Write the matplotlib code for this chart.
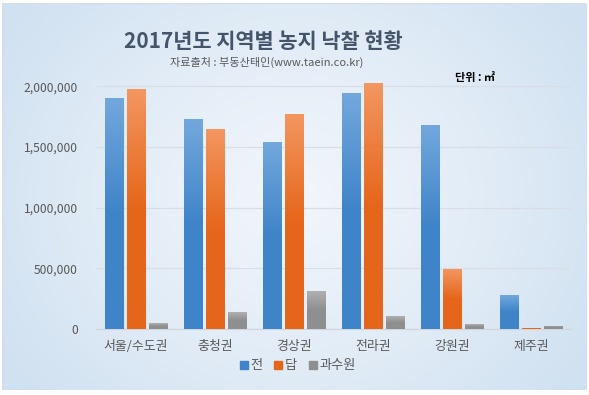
import numpy as np
import matplotlib
matplotlib.use("Agg")
import matplotlib.pyplot as plt
from matplotlib.colors import LinearSegmentedColormap
from matplotlib.patches import Rectangle
from matplotlib.lines import Line2D

plt.rcParams['font.family'] = ['Noto Sans CJK KR', 'DejaVu Sans']

categories = ['서울/수도권', '충청권', '경상권', '전라권', '강원권', '제주권']
series_names = ['전', '답', '과수원']
jeon = [1900000, 1728000, 1539000, 1942000, 1679000, 280000]
dap = [1975000, 1646000, 1770000, 2025000, 494000, 10000]
orchard = [49000, 140000, 313000, 107000, 41000, 25000]
yticks = [0, 500000, 1000000, 1500000, 2000000]
title = '2017년도 지역별 농지 낙찰 현황'
subtitle = '자료출처 : 부동산태인(www.taein.co.kr)'
unit = '단위 : ㎡'

W, H = 589, 395
fig = plt.figure(figsize=(W / 100, H / 100), dpi=100)
fig.patch.set_facecolor('white')

# background with radial gradient
bg = fig.add_axes([2 / W, 5 / H, 585 / W, 387 / H])
bg.set_axis_off()
yy, xx = np.mgrid[0:1:200j, 0:1:300j]
r = np.sqrt(((xx - 0.5) / 0.6) ** 2 + ((yy - 0.5) / 0.8) ** 2)
r = np.clip(r, 0, 1)
cmap_bg = LinearSegmentedColormap.from_list('bg', ['#F2F6FC', '#E3EDF7', '#D0E1F1'])
bg.imshow(r, cmap=cmap_bg, aspect='auto', extent=[0, 1, 0, 1], vmin=0, vmax=1)
bg.set_xlim(0, 1)
bg.set_ylim(0, 1)
bg.add_patch(Rectangle((0, 0), 1, 1, transform=bg.transAxes, fill=False,
                       edgecolor='#D6DEE8', linewidth=0.8))

ax = fig.add_axes([96 / W, (H - 329) / H, (571 - 96) / W, (329 - 79) / H])
ax.patch.set_alpha(0)

x = np.arange(len(categories))
bw = 0.228
off = 0.278
colors = [('#72A7DC', '#3F84C9'), ('#F39660', '#E5661A'), ('#B0B0B0', '#8F8F8F')]
data = [jeon, dap, orchard]
for i, (vals, (ctop, cbot)) in enumerate(zip(data, colors)):
    bars = ax.bar(x + (i - 1) * off, vals, width=bw, color=cbot, label=series_names[i], zorder=2)
    cm = LinearSegmentedColormap.from_list('g%d' % i, [cbot, cbot, ctop])
    grad = np.linspace(0, 1, 100).reshape(-1, 1)
    for b in bars:
        x0, y0 = b.get_x(), b.get_y()
        w, h = b.get_width(), b.get_height()
        im = ax.imshow(grad, cmap=cm, aspect='auto', origin='lower',
                       extent=[x0, x0 + w, y0, y0 + h], zorder=3)
        im.set_clip_path(b)

ax.set_xlim(-0.5, len(categories) - 0.5)
ax.set_ylim(0, 2060000)
ax.set_yticks(yticks)
ax.set_yticklabels([f'{v:,}' for v in yticks])
ax.set_xticks(x)
ax.set_xticklabels(categories)
ax.grid(axis='y', color='#D9DEE6', linewidth=0.9, zorder=0)
for s in ['top', 'right', 'left']:
    ax.spines[s].set_visible(False)
ax.spines['bottom'].set_color('#D0D6DE')
ax.spines['bottom'].set_linewidth(0.9)
ax.tick_params(axis='both', length=0, colors='#595959')
ax.tick_params(axis='y', labelsize=8.7, pad=13)
ax.tick_params(axis='x', labelsize=9.3, pad=8)

fig.text(263 / W, 1 - 42 / H, title, ha='center', va='center', fontsize=15,
         fontweight='bold', color='#44546A')
fig.text(267 / W, 1 - 62 / H, subtitle, ha='center', va='center', fontsize=8,
         color='#595959')
fig.text(475 / W, 1 - 77 / H, unit, ha='center', va='center', fontsize=8,
         fontweight='bold', color='#000000')

hs = [Line2D([], [], marker='s', linestyle='none', markersize=6, color=c[1]) for c in colors]
fig.legend(hs, series_names, loc='center', bbox_to_anchor=(297 / W, 1 - 366 / H),
           ncol=3, frameon=False, fontsize=9.5, handletextpad=0.1, columnspacing=0.8,
           labelcolor='#595959', handlelength=0.8)

fig.savefig('out.png', dpi=100)
